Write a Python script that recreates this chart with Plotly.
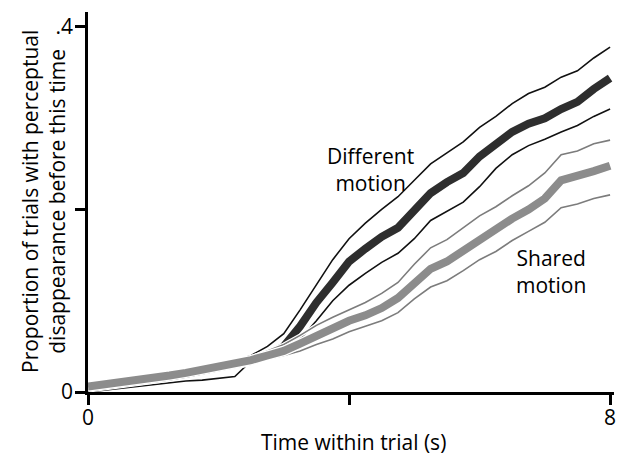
import plotly.graph_objects as go

# Time axis (s)
t = [0, 0.25, 0.5, 0.75, 1.0, 1.25, 1.5, 1.75, 2.0, 2.25, 2.5, 2.75, 3.0, 3.25, 3.5, 3.75,
     4.0, 4.25, 4.5, 4.75, 5.0, 5.25, 5.5, 5.75, 6.0, 6.25, 6.5, 6.75, 7.0, 7.25, 7.5, 7.75, 8.0]

# Different motion: mean and confidence bounds
diff_mean = [0.005, 0.007, 0.009, 0.011, 0.014, 0.017, 0.020, 0.023, 0.026, 0.030, 0.034, 0.040, 0.050,
             0.072, 0.098, 0.120, 0.143, 0.157, 0.170, 0.180, 0.198, 0.218, 0.230, 0.240, 0.258, 0.272,
             0.285, 0.294, 0.300, 0.310, 0.318, 0.332, 0.344]
diff_hi = [0.008, 0.010, 0.012, 0.015, 0.018, 0.021, 0.024, 0.027, 0.030, 0.034, 0.040, 0.050, 0.064,
           0.090, 0.118, 0.145, 0.168, 0.185, 0.200, 0.214, 0.232, 0.250, 0.262, 0.274, 0.290, 0.302,
           0.316, 0.327, 0.334, 0.345, 0.352, 0.366, 0.378]
diff_lo = [0.000, 0.002, 0.004, 0.006, 0.008, 0.010, 0.012, 0.013, 0.015, 0.017, 0.034, 0.040, 0.046,
           0.058, 0.078, 0.100, 0.117, 0.130, 0.142, 0.152, 0.168, 0.188, 0.198, 0.208, 0.225, 0.245,
           0.260, 0.270, 0.277, 0.285, 0.292, 0.302, 0.310]

# Shared motion: mean and confidence bounds
shared_mean = [0.006, 0.008, 0.010, 0.012, 0.015, 0.018, 0.021, 0.024, 0.027, 0.031, 0.035, 0.040, 0.045,
               0.053, 0.062, 0.070, 0.078, 0.084, 0.092, 0.103, 0.120, 0.135, 0.143, 0.155, 0.168, 0.178,
               0.190, 0.200, 0.212, 0.232, 0.236, 0.242, 0.248]
shared_hi = [0.009, 0.011, 0.013, 0.015, 0.018, 0.021, 0.024, 0.027, 0.030, 0.034, 0.038, 0.045, 0.052,
             0.062, 0.073, 0.082, 0.090, 0.098, 0.108, 0.120, 0.140, 0.158, 0.167, 0.180, 0.193, 0.203,
             0.215, 0.226, 0.240, 0.260, 0.264, 0.272, 0.276]
shared_lo = [0.003, 0.005, 0.007, 0.009, 0.012, 0.015, 0.018, 0.021, 0.024, 0.028, 0.032, 0.036, 0.040,
             0.045, 0.052, 0.058, 0.066, 0.072, 0.078, 0.087, 0.102, 0.115, 0.122, 0.133, 0.145, 0.154,
             0.166, 0.176, 0.186, 0.202, 0.206, 0.212, 0.216]

x_tickvals = [0, 4, 8]
x_ticktext = ["0", "", "8"]
y_tickvals = [0, 0.2, 0.4]
y_ticktext = ["0", "", ".4"]

FONT = "Open Sans"
FS = 21
fig = go.Figure()


def add_line(y, color, width, halo):
    fig.add_trace(go.Scatter(x=t, y=y, mode="lines", line=dict(color="white", width=width + halo),
                             hoverinfo="skip", showlegend=False))
    fig.add_trace(go.Scatter(x=t, y=y, mode="lines", line=dict(color=color, width=width),
                             showlegend=False))


add_line(diff_hi, "#111111", 1.6, 2.5)
add_line(diff_lo, "#111111", 1.6, 2.5)
add_line(diff_mean, "#2e2e2e", 8, 2.5)
add_line(shared_hi, "#7c7c7c", 1.6, 2.5)
add_line(shared_lo, "#7c7c7c", 1.6, 2.5)
add_line(shared_mean, "#8c8c8c", 8, 2.5)

fig.add_annotation(x=4.33, y=0.244, text="Different<br>motion", showarrow=False,
                   font=dict(family=FONT, size=FS, color="black"), xanchor="center", yanchor="middle")
fig.add_annotation(x=7.1, y=0.132, text="Shared<br>motion", showarrow=False,
                   font=dict(family=FONT, size=FS, color="black"), xanchor="center", yanchor="middle")

fig.add_annotation(xref="paper", yref="paper", x=0.504, y=0, yshift=-50, text="Time within trial (s)",
                   showarrow=False, font=dict(family=FONT, size=FS, color="black"),
                   xanchor="center", yanchor="middle")
fig.add_annotation(xref="paper", yref="paper", x=0, y=0.5, xshift=-45,
                   text="Proportion of trials with perceptual<br>disappearance before this time",
                   textangle=-90, showarrow=False, font=dict(family=FONT, size=FS, color="black"),
                   xanchor="center", yanchor="middle")

fig.update_layout(
    width=627, height=462,
    margin=dict(l=88, r=11, t=12, b=70),
    paper_bgcolor="white", plot_bgcolor="white",
    font=dict(family=FONT, size=FS, color="black"),
    xaxis=dict(range=[0, 8.06], tickvals=x_tickvals, ticktext=x_ticktext, ticks="outside",
               ticklen=10, tickwidth=2.5, tickcolor="black", showline=True, linecolor="black",
               linewidth=2.5, showgrid=False, zeroline=False, tickfont=dict(size=FS),
               ticklabelstandoff=-5),
    yaxis=dict(range=[0, 0.4164], tickvals=y_tickvals, ticktext=y_ticktext, ticks="outside",
               ticklen=10, tickwidth=2.5, tickcolor="black", showline=True, linecolor="black",
               linewidth=2.5, showgrid=False, zeroline=False, tickfont=dict(size=FS),
               ticklabelstandoff=-2),
)

fig.write_html("out.html")
